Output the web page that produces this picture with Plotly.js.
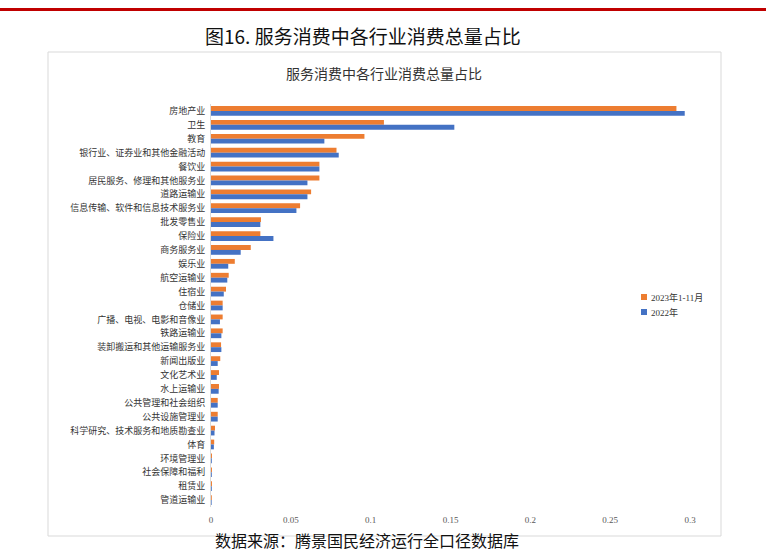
<!DOCTYPE html>
<html>
<head>
<meta charset="utf-8">
<script src="https://cdn.plot.ly/plotly-3.0.1.min.js"></script>
<style>html,body{margin:0;padding:0;background:#fff;}#chart{width:766px;height:555px;}</style>
</head>
<body>
<div id="chart"></div>
<script>
const categories = [
  "房地产业","卫生","教育","银行业、证券业和其他金融活动","餐饮业",
  "居民服务、修理和其他服务业","道路运输业","信息传输、软件和信息技术服务业","批发零售业","保险业",
  "商务服务业","娱乐业","航空运输业","住宿业","仓储业",
  "广播、电视、电影和音像业","铁路运输业","装卸搬运和其他运输服务业","新闻出版业","文化艺术业",
  "水上运输业","公共管理和社会组织","公共设施管理业","科学研究、技术服务和地质勘查业","体育",
  "环境管理业","社会保障和福利","租赁业","管道运输业"
];
const series2023 = [
  0.2915,0.1083,0.0961,0.0786,0.0679,
  0.0679,0.0627,0.0558,0.0313,0.0309,
  0.0249,0.0149,0.0111,0.0094,0.0073,
  0.0073,0.0073,0.0063,0.0058,0.0050,
  0.0050,0.0042,0.0042,0.0025,0.0020,
  0.0006,0.0006,0.0006,0.0005
];
const series2022 = [
  0.2967,0.1524,0.0710,0.0800,0.0679,
  0.0604,0.0604,0.0535,0.0309,0.0391,
  0.0186,0.0108,0.0102,0.0080,0.0073,
  0.0056,0.0065,0.0065,0.0042,0.0036,
  0.0048,0.0042,0.0042,0.0022,0.0018,
  0.0005,0.0005,0.0005,0.0004
];
const seriesNames = ["2023年1-11月","2022年"];
const seriesColors = ["#ED7D31","#4472C4"];
const xTicks = [0,0.05,0.1,0.15,0.2,0.25,0.3];
const xTickLabels = ["0","0.05","0.1","0.15","0.2","0.25","0.3"];

const W = 766, H = 555;
const px = v => v / W;
const py = v => 1 - v / H;

const traces = [
  {type:"bar", orientation:"h", name:seriesNames[0], y:categories, x:series2023,
   marker:{color:seriesColors[0]}, hoverinfo:"x+y"},
  {type:"bar", orientation:"h", name:seriesNames[1], y:categories, x:series2022,
   marker:{color:seriesColors[1]}, hoverinfo:"x+y"}
];

// custom compact legend (small squares like the reference)
const legendShapes = [], legendAnns = [];
seriesNames.forEach((n, i) => {
  const cy = 297 + i * 15;
  legendShapes.push({type:"rect", xref:"paper", yref:"paper",
    x0:px(641), x1:px(647), y0:py(cy + 3), y1:py(cy - 3),
    line:{width:0}, fillcolor:seriesColors[i]});
  legendAnns.push({text:n, xref:"paper", yref:"paper", x:px(649), y:py(cy),
    xanchor:"left", yanchor:"middle", showarrow:false,
    font:{family:"Liberation Serif, Noto Sans CJK SC", size:9, color:"#333"}});
});

const layout = {
  width:W, height:H,
  margin:{l:0,r:0,t:0,b:0},
  paper_bgcolor:"#fff", plot_bgcolor:"#fff",
  barmode:"group", bargap:0.3, bargroupgap:0,
  showlegend:false,
  xaxis:{domain:[px(211), px(690)], range:[0,0.3], tickvals:xTicks, ticktext:xTickLabels,
    showgrid:false, zeroline:false, showline:false, ticks:"",
    tickfont:{family:"Liberation Serif", size:9, color:"#595959"}, ticklabelstandoff:6, fixedrange:true},
  yaxis:{domain:[py(507), py(104)], autorange:"reversed", type:"category",
    showgrid:false, zeroline:false, showline:true, linecolor:"#d9d9d9", linewidth:1, ticks:"",
    tickfont:{family:"Noto Sans CJK SC", size:9, color:"#333"}, ticklabelstandoff:3, fixedrange:true},
  shapes:[
    {type:"line", xref:"paper", yref:"paper", x0:0, x1:1, y0:py(9.5), y1:py(9.5),
     line:{color:"#C00000", width:3}},
    {type:"rect", xref:"paper", yref:"paper", x0:px(48), x1:px(721), y0:py(536), y1:py(52),
     line:{color:"#d9d9d9", width:1}, fillcolor:"rgba(0,0,0,0)", layer:"below"}
  ].concat(legendShapes),
  annotations:[
    {text:"图16. 服务消费中各行业消费总量占比", xref:"paper", yref:"paper",
     x:px(363), y:py(35), xanchor:"center", yanchor:"middle", showarrow:false,
     font:{family:"Noto Sans CJK SC", size:19, color:"#111"}},
    {text:"服务消费中各行业消费总量占比", xref:"paper", yref:"paper",
     x:px(384), y:py(73), xanchor:"center", yanchor:"middle", showarrow:false,
     font:{family:"Noto Sans CJK SC", size:14, color:"#333"}},
    {text:"数据来源：腾景国民经济运行全口径数据库", xref:"paper", yref:"paper",
     x:px(213), y:py(554), xanchor:"left", yanchor:"bottom", showarrow:false,
     font:{family:"Noto Sans CJK SC", size:16, color:"#111"}}
  ].concat(legendAnns)
};

Plotly.newPlot("chart", traces, layout, {displayModeBar:false, staticPlot:true});
</script>
</body>
</html>
